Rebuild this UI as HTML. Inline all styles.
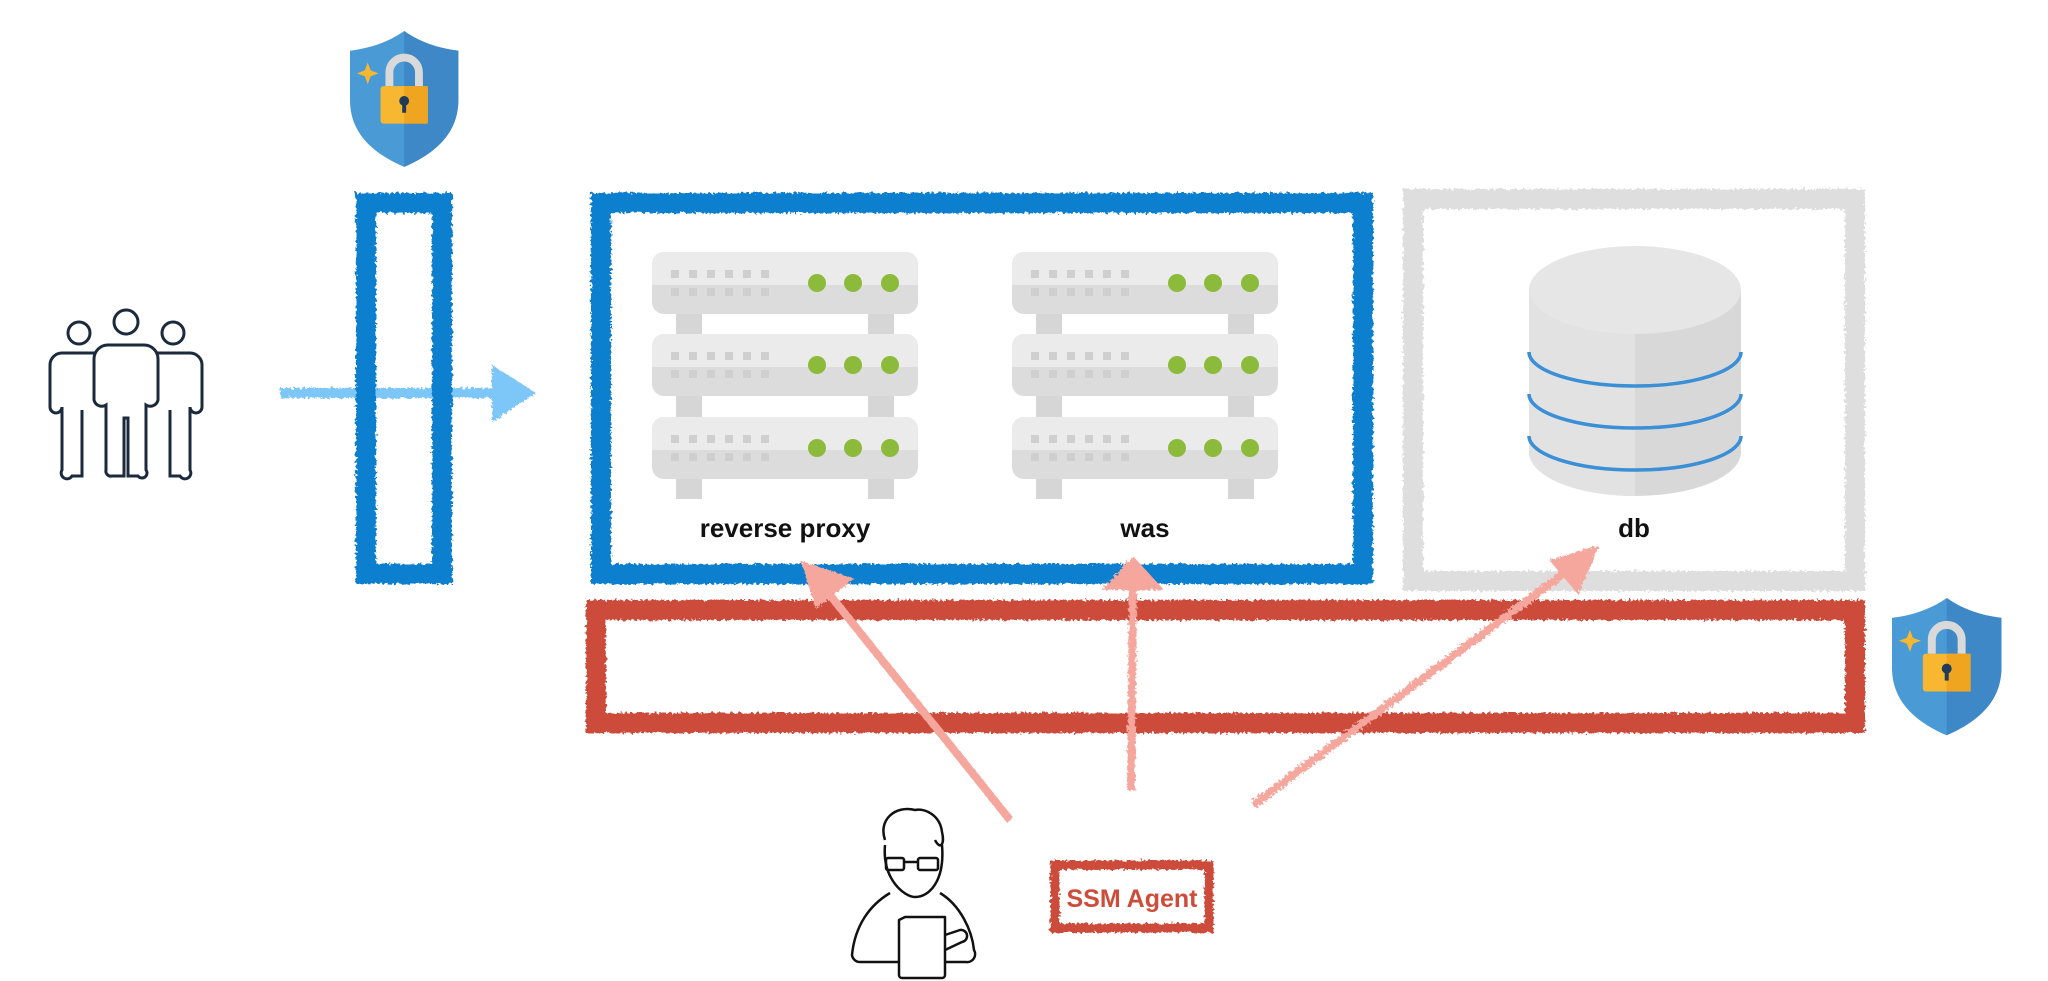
<!DOCTYPE html>
<html><head><meta charset="utf-8"><style>
html,body{margin:0;padding:0;background:#fff;}
svg{display:block;}
text{font-family:"Liberation Sans",sans-serif;}
</style></head><body>
<svg width="2048" height="981" viewBox="0 0 2048 981" xmlns="http://www.w3.org/2000/svg">
<defs>
<filter id="rough" x="-5%" y="-5%" width="110%" height="110%">
<feTurbulence type="fractalNoise" baseFrequency="0.35" numOctaves="2" seed="3"/>
<feDisplacementMap in="SourceGraphic" scale="6"/>
</filter>
<g id="unit">
<rect x="0" y="0" width="266" height="62" rx="12" fill="#dcdcdc"/>
<path d="M12 0 H254 A12 12 0 0 1 266 12 V33 H0 V12 A12 12 0 0 1 12 0Z" fill="#ebebeb"/>
<g fill="#cfcfcf">
<rect x="19" y="18" width="8" height="8"/><rect x="37" y="18" width="8" height="8"/><rect x="55" y="18" width="8" height="8"/><rect x="73" y="18" width="8" height="8"/><rect x="91" y="18" width="8" height="8"/><rect x="109" y="18" width="8" height="8"/>
<rect x="19" y="36" width="8" height="8"/><rect x="37" y="36" width="8" height="8"/><rect x="55" y="36" width="8" height="8"/><rect x="73" y="36" width="8" height="8"/><rect x="91" y="36" width="8" height="8"/><rect x="109" y="36" width="8" height="8"/>
</g>
<circle cx="165" cy="31" r="9" fill="#8cba3a"/><circle cx="201" cy="31" r="9" fill="#8cba3a"/><circle cx="238" cy="31" r="9" fill="#8cba3a"/>
</g>
<g id="server">
<rect x="24" y="55" width="26" height="192" fill="#d6d6d6"/>
<rect x="216" y="55" width="26" height="192" fill="#d6d6d6"/>
<use href="#unit" y="0"/><use href="#unit" y="82"/><use href="#unit" y="165"/>
</g>
<g id="shield">
<path d="M55 0 C75 14 95 18 110 20 V70 C110 105 85 125 55 138 C25 125 0 105 0 70 V20 C15 18 35 14 55 0Z" fill="#4a9ad6"/>
<path d="M55 0 C75 14 95 18 110 20 V70 C110 105 85 125 55 138Z" fill="#3f88c8"/>
<path d="M40 56 V42 A15 15 0 0 1 70 42 V56" fill="none" stroke="#d9d9d9" stroke-width="8"/>
<rect x="31" y="56" width="48" height="38" rx="3" fill="#f7b731"/>
<rect x="55" y="56" width="24" height="38" fill="#f0a520"/>
<circle cx="55" cy="71" r="5" fill="#1f3b57"/><rect x="53" y="72" width="4" height="11" fill="#1f3b57"/>
<path d="M18 32 L21 40 L29 43 L21 46 L18 54 L15 46 L7 43 L15 40Z" fill="#f7b731"/>
</g>
</defs>

<use href="#shield" transform="translate(350,31) scale(0.985)"/>
<use href="#shield" transform="translate(1892,598) scale(0.995)"/>

<g fill="none" stroke="#1b2a3d" stroke-width="3">
<circle cx="79" cy="333" r="11"/><circle cx="126" cy="322" r="12"/><circle cx="173" cy="333" r="11"/>
<path d="M96 353 H62 A12 12 0 0 0 50 365 V407 A6 6 0 0 0 62 407 V470 A5 5 0 0 0 72 476 H82 V410"/>
<path d="M156 353 H190 A12 12 0 0 1 202 365 V407 A6 6 0 0 1 190 407 V470 A5 5 0 0 1 180 476 H170 V410"/>
<path d="M108 345 H144 A14 14 0 0 1 158 359 V400 A8 8 0 0 1 146 405 V470 A5 5 0 0 1 138 476 H128 V418 H124 V476 H112 A5 5 0 0 1 106 470 V405 A8 8 0 0 1 94 400 V359 A14 14 0 0 1 108 345Z"/>
</g>

<g filter="url(#rough)">
<line x1="280" y1="393" x2="500" y2="393" stroke="#7cc7f7" stroke-width="10"/>
<path d="M492 365 L536 393 L492 422Z" fill="#7cc7f7"/>
</g>

<g filter="url(#rough)" fill="none">
<rect x="366" y="203" width="76" height="371" stroke="#0a7fcf" stroke-width="20"/>
<rect x="601" y="203" width="762" height="371" stroke="#0a7fcf" stroke-width="20"/>
<rect x="1413" y="199" width="442" height="382" stroke="#dedede" stroke-width="20"/>
<rect x="596" y="610" width="1259" height="113" stroke="#cd4c3a" stroke-width="20"/>
<rect x="1055" y="865" width="154" height="63" stroke="#cd4c3a" stroke-width="9"/>
</g>

<use href="#server" transform="translate(652,252)"/>
<use href="#server" transform="translate(1012,252)"/>

<g>
<path d="M1529 290 V452 A106 44 0 0 0 1741 452 V290Z" fill="#d8d8d8"/>
<path d="M1529 290 V452 A106 44 0 0 0 1635 496 V290Z" fill="#e2e2e2"/>
<ellipse cx="1635" cy="290" rx="106" ry="44" fill="#e6e6e6"/>
<g fill="none" stroke="#3a8fd6" stroke-width="3.5">
<path d="M1529 352 A106 34 0 0 0 1741 352"/>
<path d="M1529 394 A106 34 0 0 0 1741 394"/>
<path d="M1529 436 A106 34 0 0 0 1741 436"/>
</g>
</g>

<text x="785" y="537" font-size="26" font-weight="bold" text-anchor="middle" fill="#111">reverse proxy</text>
<text x="1145" y="537" font-size="26" font-weight="bold" text-anchor="middle" fill="#111">was</text>
<text x="1634" y="537" font-size="26" font-weight="bold" text-anchor="middle" fill="#111">db</text>

<g filter="url(#rough)" stroke="#f6a79d" stroke-width="8" fill="#f6a79d">
<line x1="1010" y1="820" x2="822" y2="585"/>
<path d="M807 567 L846 580 L818 602Z"/>
<line x1="1131" y1="790" x2="1133" y2="580"/>
<path d="M1133 562 L1155 586 L1111 586Z"/>
<line x1="1253" y1="805" x2="1575" y2="565"/>
<path d="M1592 552 L1577 587 L1556 562Z"/>
</g>

<text x="1132" y="907" font-size="25" font-weight="bold" text-anchor="middle" fill="#cd4c3a">SSM Agent</text>

<g fill="none" stroke="#111" stroke-width="2.5" stroke-linejoin="round">
<path d="M885 840 C878 820 895 805 915 810 C925 808 940 815 942 832 C945 845 940 850 935 840"/>
<path d="M885 845 C882 880 905 897 915 897 C930 897 945 880 942 845"/>
<rect x="886" y="858" width="18" height="12" rx="2"/><rect x="918" y="858" width="20" height="12" rx="2"/>
<line x1="904" y1="862" x2="918" y2="862"/>
<path d="M890 893 C870 905 855 925 852 955 A8 8 0 0 0 860 962 H900"/>
<path d="M940 893 C960 905 972 930 974 950 A8 8 0 0 1 966 962 H945"/>
<path d="M905 917 H945 V975 A3 3 0 0 1 942 978 H902 A3 3 0 0 1 899 975 V920 Z"/>
<path d="M945 935 L960 930 A6 6 0 0 1 962 942 L945 950"/>
</g>
</svg>
</body></html>
